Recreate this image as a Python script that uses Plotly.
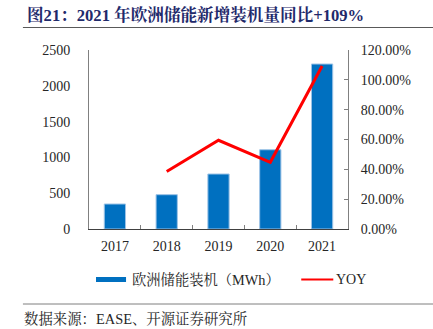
import plotly.graph_objects as go

years = ["2017", "2018", "2019", "2020", "2021"]
capacity_mwh = [349, 479, 768, 1107, 2304]
yoy_years = ["2018", "2019", "2020", "2021"]
yoy = [0.386, 0.595, 0.447, 1.093]

W, H = 433, 329
L, R, T, B = 89, 347.7, 50, 229

def px(x):
    return (x - L) / (R - L)

def py(y):
    return (B - y) / (B - T)

SERIF = "Liberation Serif, Noto Serif CJK SC, Noto Sans CJK SC, serif"
fs = 14

fig = go.Figure()
fig.add_trace(go.Bar(
    x=years, y=capacity_mwh, name="欧洲储能装机（MWh）",
    marker=dict(color="#0070C0", line=dict(color="#9DC3E6", width=1)),
    width=0.41, showlegend=False,
))
fig.add_trace(go.Scatter(
    x=yoy_years, y=yoy, name="YOY", yaxis="y2", mode="lines",
    line=dict(color="#FF0000", width=3), showlegend=False,
))

shapes = [
    dict(type="line", xref="paper", yref="paper", x0=px(23), x1=px(433), y0=py(27.5), y1=py(27.5),
         line=dict(color="#595959", width=1.2)),
    dict(type="line", xref="paper", yref="paper", x0=px(23), x1=px(433), y0=py(304), y1=py(304),
         line=dict(color="#7f7f7f", width=1)),
    dict(type="rect", xref="paper", yref="paper", x0=px(96), x1=px(126), y0=py(282), y1=py(277),
         fillcolor="#0070C0", line=dict(width=0)),
    dict(type="line", xref="paper", yref="paper", x0=px(301), x1=px(333), y0=py(279.5), y1=py(279.5),
         line=dict(color="#FF0000", width=2)),
]

annotations = [
    dict(text="<b>图21：2021 年欧洲储能新增装机量同比+109%</b>", xref="paper", yref="paper",
         x=px(25), y=py(15), xanchor="left", yanchor="middle", showarrow=False,
         font=dict(family=SERIF, size=16.6, color="#1F2A6B")),
    dict(text="欧洲储能装机（MWh）", xref="paper", yref="paper",
         x=px(130), y=py(279.5), xanchor="left", yanchor="middle", showarrow=False,
         font=dict(family=SERIF, size=14.3, color="#262626")),
    dict(text="YOY", xref="paper", yref="paper",
         x=px(334), y=py(279.5), xanchor="left", yanchor="middle", showarrow=False,
         font=dict(family=SERIF, size=fs, color="#262626")),
    dict(text="数据来源：EASE、开源证券研究所", xref="paper", yref="paper",
         x=px(22), y=py(318), xanchor="left", yanchor="middle", showarrow=False,
         font=dict(family=SERIF, size=14.4, color="#262626")),
]

fig.update_layout(
    width=W, height=H,
    margin=dict(l=L, r=W - R, t=T, b=H - B, pad=0),
    paper_bgcolor="white", plot_bgcolor="white",
    font=dict(family=SERIF, size=fs, color="#262626"),
    xaxis=dict(type="category", showline=True, linecolor="#404040", linewidth=1,
               ticks="inside", tickson="boundaries", ticklen=4, tickcolor="#808080",
               showgrid=False, tickfont=dict(size=fs), ticklabelstandoff=4),
    yaxis=dict(range=[0, 2500], dtick=500, showline=True, linecolor="#808080", linewidth=1,
               showgrid=False, zeroline=False, ticks="", tickfont=dict(size=fs),
               ticklabelstandoff=15),
    yaxis2=dict(range=[0, 1.2], dtick=0.2, tickformat=".2%", overlaying="y", side="right",
                showline=True, linecolor="#808080", linewidth=1, showgrid=False, zeroline=False,
                ticks="inside", ticklen=4, tickcolor="#808080", tickfont=dict(size=fs),
                ticklabelstandoff=9),
    shapes=shapes, annotations=annotations,
    bargap=0.59,
)

fig.write_html("out.html")
